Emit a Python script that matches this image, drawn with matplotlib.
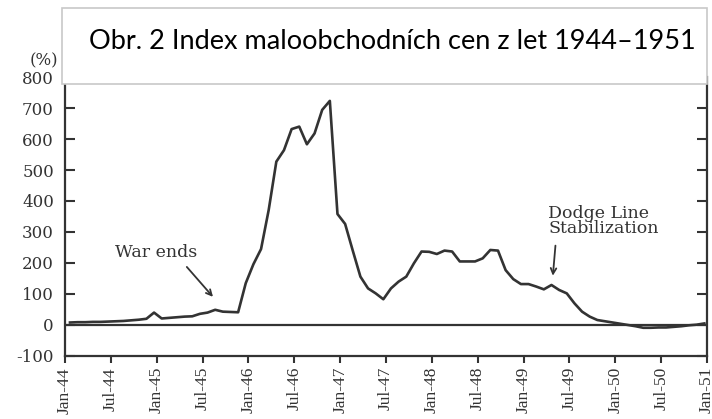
import matplotlib
matplotlib.use("Agg")
import matplotlib.pyplot as plt
import numpy as np
from matplotlib.patches import Rectangle

# monthly retail price index (% change), Jan-44 .. Dec-50
values = [
    8, 9, 9, 10, 10, 11, 12, 13, 15, 17, 20, 40,
    21, 23, 25, 27, 28, 36, 40, 49, 43, 42, 41, 135,
    196, 245, 371, 527, 564, 632, 640, 583, 618, 694, 723, 358,
    326, 240, 156, 118, 102, 83, 118, 140, 156, 199, 237, 236,
    229, 240, 237, 205, 205, 205, 215, 242, 240, 177, 148, 132,
    132, 124, 115, 129, 113, 102, 70, 43, 27, 16, 12, 8,
    4, 0, -4, -9, -9, -8, -8, -6, -4, -1, 1, 5,
]
tick_labels = ["Jan-44", "Jul-44", "Jan-45", "Jul-45", "Jan-46", "Jul-46", "Jan-47",
               "Jul-47", "Jan-48", "Jul-48", "Jan-49", "Jul-49", "Jan-50", "Jul-50", "Jan-51"]
y_ticks = [-100, 0, 100, 200, 300, 400, 500, 600, 700, 800]

INK = "#333333"
SERIF = "Liberation Serif"
WIDE_SERIF = "DejaVu Serif"

fig = plt.figure(figsize=(7.12, 4.19), dpi=100)
ax = fig.add_axes([0.0913, 0.1504, 0.9017, 0.6658])

months = np.arange(len(values)) + 0.65
ax.plot(months, values, color=INK, linewidth=1.9)
ax.axhline(0, color=INK, linewidth=1.6)

ax.set_xlim(0, 84)
ax.set_ylim(-100, 800)
ax.set_xticks(np.arange(0, 85, 6))
ax.set_xticklabels(tick_labels, rotation=90, fontfamily=SERIF, fontsize=12.5, color=INK)
ax.set_yticks(y_ticks)
ax.set_yticklabels([str(v) for v in y_ticks], fontfamily=WIDE_SERIF, fontsize=12,
                   color=INK)
ax.tick_params(axis="y", direction="in", length=7, width=1.5, right=True, color=INK, pad=8)
ax.tick_params(axis="x", direction="out", length=5, width=1.5, color=INK, pad=3)

for side in ("left", "right", "bottom"):
    ax.spines[side].set_color(INK)
    ax.spines[side].set_linewidth(1.6)
ax.spines["top"].set_visible(False)

# annotations
ax.annotate("", xy=(19.6, 84), xytext=(15.7, 194),
            arrowprops=dict(arrowstyle="->", color=INK, lw=1.3))
ax.text(11.9, 235, "War ends", ha="center", va="center", fontfamily=WIDE_SERIF,
        fontsize=12.5, color=INK)
ax.annotate("", xy=(63.8, 150), xytext=(64.2, 265),
            arrowprops=dict(arrowstyle="->", color=INK, lw=1.3))
ax.text(63.2, 335, "Dodge Line\nStabilization", ha="left", va="center",
        fontfamily=WIDE_SERIF, fontsize=12.5, color=INK, linespacing=0.85)

fig.text(0.0815, 0.855, "(%)", fontfamily=WIDE_SERIF, fontsize=12, color=INK,
         ha="right", va="center")

# title box on top of the plot
fig.patches.append(Rectangle((0.0871, 0.7995), 0.906, 0.1815, transform=fig.transFigure,
                             facecolor="white", edgecolor="#c8c8c8", linewidth=1.2,
                             zorder=5))
fig.text(0.551, 0.902, "Obr. 2 Index maloobchodních cen z let 1944–1951",
         ha="center", va="center", fontfamily="Lato", fontsize=19.5, color="black",
         zorder=6)

fig.savefig("out.png", dpi=100, facecolor="white")
